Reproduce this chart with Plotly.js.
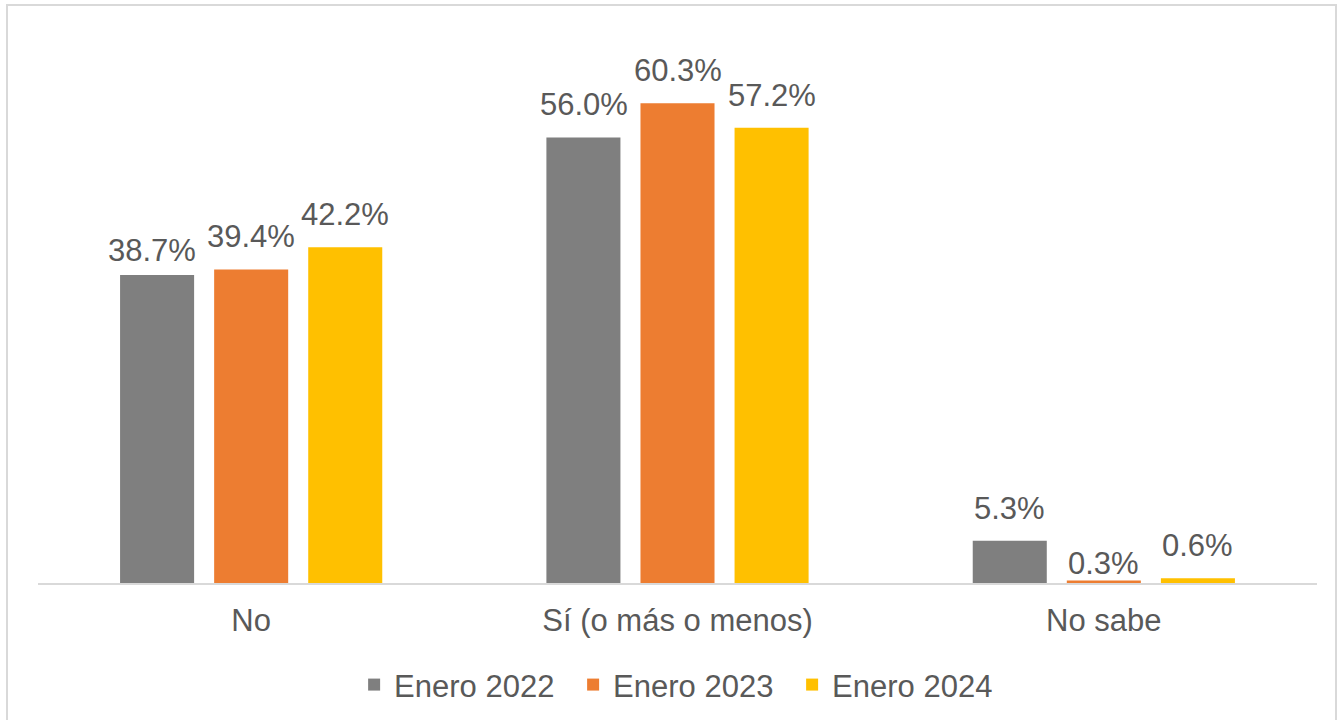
<!DOCTYPE html>
<html>
<head>
<meta charset="utf-8">
<script src="https://cdn.plot.ly/plotly-3.0.1.min.js"></script>
<style>
  html, body { margin: 0; padding: 0; background: #ffffff; }
  #wrap { position: relative; width: 1340px; height: 720px; overflow: hidden; }
  #chart { position: absolute; left: 0; top: 0; width: 1340px; height: 720px; }
  #frame { position: absolute; left: 6px; top: 4px; width: 1331px; height: 730px;
           border: 2px solid #d9d9d9; box-sizing: border-box; pointer-events: none; }
</style>
</head>
<body>
<div id="wrap">
  <div id="chart"></div>
  <div id="frame"></div>
</div>
<script>
const categories = ["No", "Sí (o más o menos)", "No sabe"];
const seriesNames = ["Enero 2022", "Enero 2023", "Enero 2024"];
const enero2022 = [38.7, 56.0, 5.3];
const enero2023 = [39.4, 60.3, 0.3];
const enero2024 = [42.2, 57.2, 0.6];
const seriesValues = [enero2022, enero2023, enero2024];
const colors = ["#7f7f7f", "#ed7d31", "#ffc000"];

const FONT = "Liberation Sans, Arial, sans-serif";
const TXT = "#595959";
const FS = 31;

const traces = seriesValues.map((vals, i) => ({
  type: "bar",
  name: seriesNames[i],
  x: categories,
  y: vals,
  marker: { color: colors[i] },
  hoverinfo: "skip"
}));

// data labels as annotations anchored at each bar's value
const SLOT = 94; // px between adjacent bars in a group
// small per-label nudges (px) to follow the reference label placement
const labelNudgeY = [[-8, 0, 0], [0, 0, -15], [0, 0, 0]];
const labelNudgeX = [[-5, 0, 0], [0, 0, 0], [0, 0, 0]];
const annotations = [];
seriesValues.forEach((vals, i) => {
  vals.forEach((v, j) => {
    annotations.push({
      x: categories[j],
      y: v,
      xref: "x",
      yref: "y",
      text: v.toFixed(1) + "%",
      showarrow: false,
      xanchor: "center",
      yanchor: "bottom",
      xshift: (i - 1) * SLOT + labelNudgeX[i][j],
      yshift: 13 + labelNudgeY[i][j],
      font: { family: FONT, size: FS, color: TXT }
    });
  });
});

const layout = {
  width: 1340,
  height: 720,
  margin: { l: 38, r: 23, t: 26, b: 137, autoexpand: false },
  paper_bgcolor: "#ffffff",
  plot_bgcolor: "#ffffff",
  barmode: "group",
  bargap: 0.338,
  bargroupgap: 0.213,
  showlegend: true,
  legend: {
    orientation: "h",
    x: 0.504, xanchor: "center",
    y: -0.183, yanchor: "middle",
    font: { family: FONT, size: FS, color: TXT },
    itemwidth: 30,
    entrywidth: 174,
    entrywidthmode: "pixels",
    traceorder: "normal"
  },
  annotations: annotations,
  xaxis: {
    type: "category",
    range: [-0.5, 2.5],
    showline: true,
    linecolor: "#d9d9d9",
    linewidth: 2,
    ticks: "",
    showgrid: false,
    zeroline: false,
    tickfont: { family: FONT, size: FS, color: TXT },
    ticklabelstandoff: 9
  },
  yaxis: {
    range: [0, 70],
    visible: false,
    showgrid: false,
    zeroline: false
  },
  font: { family: FONT, color: TXT }
};

Plotly.newPlot("chart", traces, layout, { displayModeBar: false, staticPlot: true });
</script>
</body>
</html>
